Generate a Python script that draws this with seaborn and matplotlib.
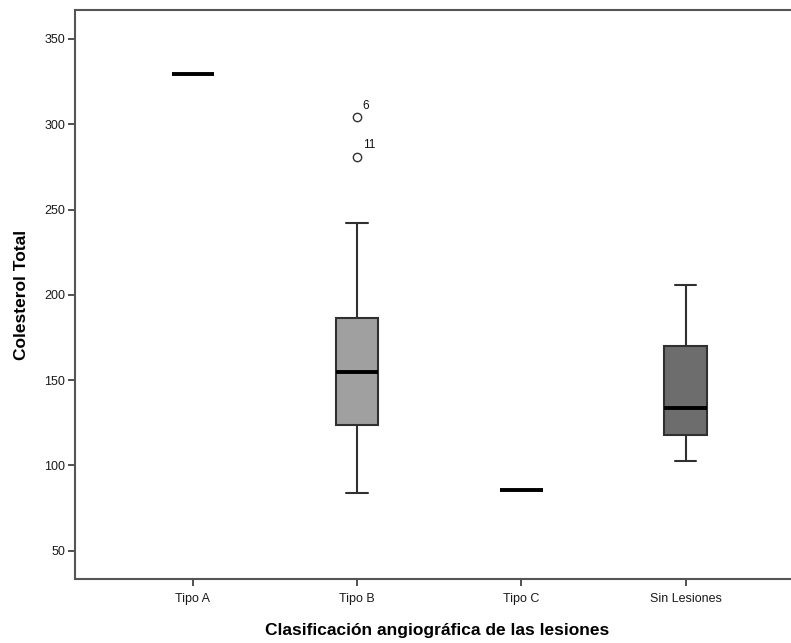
import matplotlib
matplotlib.use("Agg")
import matplotlib.pyplot as plt
import seaborn as sns
import pandas as pd

# ---- data ----
categories = ["Tipo A", "Tipo B", "Tipo C", "Sin Lesiones"]
tipo_a = [329.5]
tipo_b = [84, 98, 112, 123.5, 131, 144, 155, 163, 175, 186.5, 242, 281, 304]
tipo_c = [85.5]
sin_lesiones = [102.5, 118, 133.5, 170, 206]
outlier_values = [304, 281]
outlier_labels = ["6", "11"]
outlier_category = "Tipo B"
y_ticks = [50, 100, 150, 200, 250, 300, 350]
box_colors = ["#a8a8a8", "#a0a0a0", "#a8a8a8", "#6d6d6d"]

groups = [tipo_a, tipo_b, tipo_c, sin_lesiones]
df = pd.DataFrame({
    "cat": [c for c, g in zip(categories, groups) for _ in g],
    "val": [v for g in groups for v in g],
})

sns.set_style("white")
plt.rcParams["font.family"] = ["Liberation Sans", "DejaVu Sans"]

fig = plt.figure(figsize=(7.91, 6.43), dpi=100)
ax = fig.add_axes([75 / 791, 1 - 579 / 643, 1 - 75 / 791 + 0.01, (579 - 10) / 643])

line_col = "#303030"
sns.boxplot(
    data=df, x="cat", y="val", order=categories, hue="cat", hue_order=categories,
    palette=box_colors, legend=False, width=0.26, whis=1.4, ax=ax,
    linewidth=1.5, linecolor=line_col,
    medianprops=dict(color="black", linewidth=2.8),
    flierprops=dict(marker="o", markersize=6, markerfacecolor="white",
                    markeredgecolor="#333333", markeredgewidth=1.0),
    showcaps=True,
)

xi = categories.index(outlier_category)
for v, lab in zip(outlier_values, outlier_labels):
    ax.annotate(lab, (xi, v), xytext=(4, 4), textcoords="offset points",
                ha="left", va="bottom", fontsize=8.5, color="#111111")

ax.set_xlim(-0.718, 3.69)
ax.set_ylim(33.4, 367)
ax.set_yticks(y_ticks)
ax.set_yticklabels([str(t) for t in y_ticks])

for s in ["left", "bottom", "top"]:
    ax.spines[s].set_visible(True)
    ax.spines[s].set_color("#555555")
    ax.spines[s].set_linewidth(1.5)
ax.spines["right"].set_visible(False)

ax.tick_params(axis="both", which="both", direction="out", length=5, width=1.2,
               color="#333333", labelsize=9, labelcolor="#1a1a1a", pad=2,
               left=True, bottom=True)
ax.tick_params(axis="x", pad=5)

ax.set_xlabel("Clasificación angiográfica de las lesiones", fontsize=12.5,
              fontweight="bold", labelpad=13, color="black")
ax.set_ylabel("Colesterol Total", fontsize=12.5, fontweight="bold",
              labelpad=11, color="black")

fig.savefig("out.png", dpi=100)
